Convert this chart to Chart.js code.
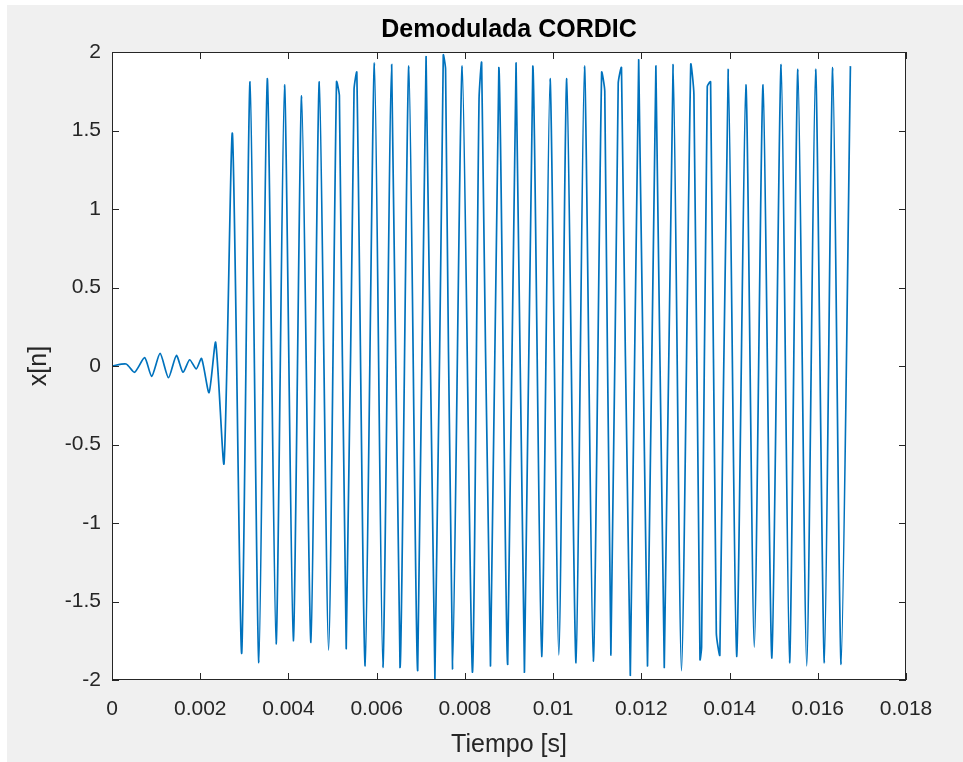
<!DOCTYPE html>
<html>
<head>
<meta charset="utf-8">
<script src="https://cdn.jsdelivr.net/npm/chart.js@4"></script>
<style>
  html, body { margin: 0; padding: 0; background: #ffffff; }
  #wrap { position: absolute; left: 0; top: 0; width: 963px; height: 762px; }
</style>
</head>
<body>
<div id="wrap"><canvas id="grafico" width="963" height="762"></canvas></div>
<script>
// tiempo [s] de cada punto
const tiempo = [
  0, 0.00032, 0.00051, 0.00074, 0.00090, 0.00109, 0.00128, 0.00146, 0.00161, 0.00176,
  0.00191, 0.00203, 0.00220, 0.00235, 0.00254, 0.00273, 0.00294, 0.00313, 0.00333, 0.00352,
  0.00372, 0.00391, 0.00411, 0.00430, 0.00451, 0.00470, 0.00491, 0.00509, 0.005155, 0.00531,
  0.005487, 0.00555, 0.00574, 0.00595, 0.00614, 0.00634, 0.00653, 0.00673, 0.00693, 0.00712,
  0.00732, 0.00751, 0.007562, 0.00772, 0.00794, 0.00817, 0.008321, 0.00838, 0.00858, 0.00877,
  0.00897, 0.00916, 0.00935, 0.00954, 0.00974, 0.00993, 0.01013, 0.01031, 0.01052, 0.01071,
  0.01091, 0.01110, 0.011171, 0.01131, 0.011476, 0.01155, 0.01175, 0.01194, 0.01214, 0.01233,
  0.01252, 0.01272, 0.01291, 0.01312, 0.013192, 0.01333, 0.013366, 0.013495, 0.01357, 0.013700,
  0.01378, 0.01397, 0.01416, 0.01437, 0.01456, 0.01476, 0.01496, 0.01517, 0.01536, 0.01555,
  0.01575, 0.01595, 0.01615, 0.01634, 0.01653, 0.01674
];
// x[n] en esos instantes
const xn = [
  0, 0.013, -0.04, 0.053, -0.067, 0.080, -0.075, 0.067, -0.04, 0.040,
  -0.019, 0.048, -0.17, 0.15, -0.62, 1.48, -1.83, 1.81, -1.89, 1.83,
  -1.77, 1.79, -1.75, 1.72, -1.76, 1.81, -1.81, 1.81, 1.72, -1.80,
  1.76, 1.87, -1.91, 1.93, -1.92, 1.92, -1.92, 1.91, -1.94, 1.97,
  -1.99, 1.98, 1.89, -1.93, 1.91, -1.95, 1.70, 1.93, -1.91, 1.90,
  -1.90, 1.93, -1.95, 1.91, -1.85, 1.83, -1.84, 1.83, -1.89, 1.91,
  -1.88, 1.87, 1.75, -1.84, 1.80, 1.90, -1.97, 1.95, -1.91, 1.91,
  -1.92, 1.92, -1.94, 1.92, 1.73, -1.87, -1.79, 1.78, 1.81, -1.70,
  -1.84, 1.89, -1.85, 1.79, -1.79, 1.79, -1.86, 1.92, -1.89, 1.89,
  -1.91, 1.89, -1.89, 1.90, -1.90, 1.91
];
const ticksX = [0, 0.002, 0.004, 0.006, 0.008, 0.01, 0.012, 0.014, 0.016, 0.018];
const etiquetasX = ["0", "0.002", "0.004", "0.006", "0.008", "0.01", "0.012", "0.014", "0.016", "0.018"];
const ticksY = [-2, -1.5, -1, -0.5, 0, 0.5, 1, 1.5, 2];
const etiquetasY = ["-2", "-1.5", "-1", "-0.5", "0", "0.5", "1", "1.5", "2"];
const titulo = "Demodulada CORDIC";

const puntos = tiempo.map((t, i) => ({ x: t, y: xn[i] }));
const colorEje = "#262626";
const fuente = "'Liberation Sans', Arial, sans-serif";

// fondo gris de la figura, área blanca, título y marcas hacia dentro (estilo MATLAB)
const estiloMatlab = {
  id: "estiloMatlab",
  beforeDraw(chart) {
    const c = chart.ctx, a = chart.chartArea;
    c.save();
    c.fillStyle = "#f0f0f0";
    c.fillRect(7, 5, chart.width - 7, chart.height - 5);
    c.fillStyle = "#ffffff";
    c.fillRect(a.left, a.top, a.right - a.left, a.bottom - a.top);
    c.restore();
  },
  afterDraw(chart) {
    const c = chart.ctx, a = chart.chartArea;
    const sx = chart.scales.x, sy = chart.scales.y;
    const largo = 7;
    c.save();
    c.strokeStyle = colorEje;
    c.lineWidth = 1;
    c.beginPath();
    ticksX.forEach(v => {
      const px = Math.round(sx.getPixelForValue(v)) + 0.5;
      c.moveTo(px, a.bottom); c.lineTo(px, a.bottom - largo);
      c.moveTo(px, a.top); c.lineTo(px, a.top + largo);
    });
    ticksY.forEach(v => {
      const py = Math.round(sy.getPixelForValue(v)) + 0.5;
      c.moveTo(a.left, py); c.lineTo(a.left + largo, py);
      c.moveTo(a.right, py); c.lineTo(a.right - largo, py);
    });
    c.stroke();
    c.strokeRect(a.left + 0.5, a.top + 0.5, a.right - a.left - 1, a.bottom - a.top - 1);
    // título centrado sobre el área de datos
    c.fillStyle = "#000000";
    c.font = "bold 25px " + fuente;
    c.textAlign = "center";
    c.textBaseline = "middle";
    c.fillText(titulo, (a.left + a.right) / 2, 30);
    c.restore();
  }
};

const ctx = document.getElementById("grafico").getContext("2d");
new Chart(ctx, {
  type: "line",
  data: {
    datasets: [{
      label: "x[n]",
      data: puntos,
      borderColor: "#0072bd",
      borderWidth: 1.7,
      pointRadius: 0,
      tension: 0.22,
      fill: false
    }]
  },
  options: {
    responsive: false,
    animation: false,
    events: [],
    layout: { padding: { left: 0, right: 57, top: 52, bottom: 0 } },
    plugins: {
      legend: { display: false },
      tooltip: { enabled: false },
      title: { display: false }
    },
    scales: {
      x: {
        type: "linear",
        min: 0,
        max: 0.018,
        afterBuildTicks: s => { s.ticks = ticksX.map(v => ({ value: v })); },
        afterFit: s => { s.height = 82; },
        grid: { display: false, drawTicks: false },
        border: { display: false },
        ticks: {
          color: colorEje,
          padding: 17,
          maxRotation: 0,
          autoSkip: false,
          font: { family: fuente, size: 21 },
          callback: (v, i) => etiquetasX[i]
        },
        title: {
          display: true,
          text: "Tiempo [s]",
          color: colorEje,
          font: { family: fuente, size: 25 },
          padding: { top: 0, bottom: 2 }
        }
      },
      y: {
        type: "linear",
        min: -2,
        max: 2,
        afterBuildTicks: s => { s.ticks = ticksY.map(v => ({ value: v })); },
        afterFit: s => { s.width = 112; },
        grid: { display: false, drawTicks: false },
        border: { display: false },
        ticks: {
          color: colorEje,
          padding: 11,
          autoSkip: false,
          font: { family: fuente, size: 21 },
          callback: (v, i) => etiquetasY[i]
        },
        title: {
          display: true,
          text: "x[n]",
          color: colorEje,
          font: { family: fuente, size: 25 },
          padding: { top: 24, bottom: 0 }
        }
      }
    }
  },
  plugins: [estiloMatlab]
});
</script>
</body>
</html>
